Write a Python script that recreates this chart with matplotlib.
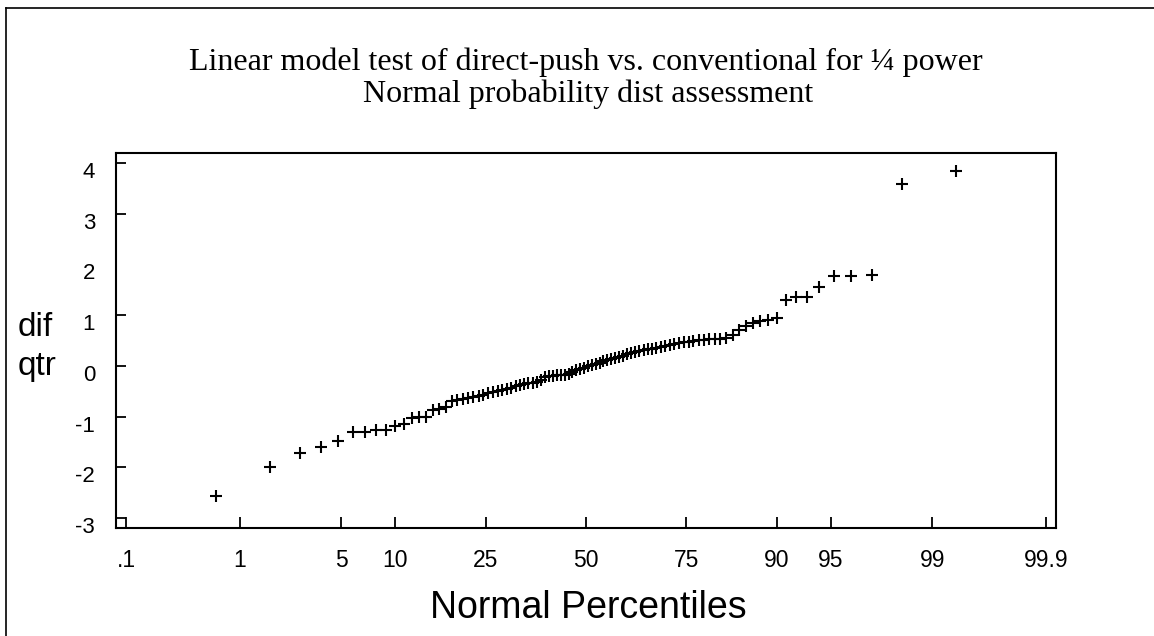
import matplotlib
matplotlib.use("Agg")
import matplotlib.pyplot as plt
from matplotlib.lines import Line2D
from matplotlib.transforms import ScaledTranslation
from statistics import NormalDist

# ---- data (sorted residuals "dif qtr") ----
dif_qtr = [
    -2.56, -1.99, -1.72, -1.60, -1.48, -1.30, -1.30, -1.26, -1.26, -1.19,
    -1.15, -1.03, -1.00, -1.00, -0.88, -0.86, -0.82, -0.70, -0.68, -0.66,
    -0.64, -0.62, -0.60, -0.57, -0.54, -0.52, -0.50, -0.48, -0.46, -0.44,
    -0.40, -0.37, -0.35, -0.34, -0.33, -0.31, -0.28, -0.21, -0.20, -0.20,
    -0.19, -0.19, -0.18, -0.16, -0.12, -0.09, -0.07, -0.04, -0.01, 0.02,
    0.04, 0.06, 0.09, 0.11, 0.13, 0.15, 0.17, 0.20, 0.23, 0.25,
    0.27, 0.30, 0.32, 0.33, 0.34, 0.36, 0.38, 0.40, 0.42, 0.44,
    0.45, 0.47, 0.48, 0.50, 0.51, 0.51, 0.52, 0.52, 0.53, 0.55,
    0.60, 0.70, 0.78, 0.84, 0.88, 0.91, 0.95, 1.29, 1.35, 1.36,
    1.55, 1.78, 1.78, 1.80, 3.58, 3.85,
]
pct_ticks = [0.1, 1, 5, 10, 25, 50, 75, 90, 95, 99, 99.9]
pct_labels = [".1", "1", "5", "10", "25", "50", "75", "90", "95", "99", "99.9"]
y_ticks = [4, 3, 2, 1, 0, -1, -2, -3]
y_labels = ["4", "3", "2", "1", "0", "-1", "-2", "-3"]

title1 = "Linear model test of direct-push vs. conventional for \u00bc power"
title2 = "Normal probability dist assessment"

# ---- normal-probability positions (Blom plotting positions) ----
nd = NormalDist()
n = len(dif_qtr)
zpos = [nd.inv_cdf((i + 1 - 0.375) / (n + 0.25)) for i in range(n)]
xt = [nd.inv_cdf(p / 100.0) for p in pct_ticks]

W, H, DPI = 1154, 636, 100
fig = plt.figure(figsize=(W / DPI, H / DPI), dpi=DPI)
fig.patch.set_facecolor("white")

ax = fig.add_axes([116 / W, 1 - 528 / H, 940 / W, 375 / H])
ax.plot(zpos, dif_qtr, linestyle="none", marker="+", markersize=9,
        markeredgewidth=1.5, color="black")

ax.set_xlim(-3.158, 3.158)
ax.set_ylim(-3.197, 4.197)

for s in ax.spines.values():
    s.set_linewidth(1.5)
    s.set_color("black")

ax.set_xticks(xt)
ax.set_xticklabels(pct_labels, fontfamily="Liberation Sans", fontsize=16.5)
ax.set_yticks(y_ticks)
ax.set_yticklabels(y_labels, fontfamily="Liberation Sans", fontsize=16)
ax.tick_params(axis="x", direction="in", length=8, width=1.3, pad=15,
               top=False, colors="black")
ax.tick_params(axis="y", direction="in", length=7, width=1.3, pad=15,
               right=False, colors="black")

# y tick labels hang below their tick (top-aligned) as in the reference
off = ScaledTranslation(0, -15.0 / DPI, fig.dpi_scale_trans)
for lab in ax.get_yticklabels():
    lab.set_verticalalignment("baseline")
    lab.set_transform(lab.get_transform() + off)

# the reference has no tick mark at 2
for val, tk in zip(y_ticks, ax.yaxis.get_major_ticks()):
    if val == 2:
        tk.tick1line.set_visible(False)

# titles
fig.text(586 / W, 1 - 70 / H, title1, ha="center", va="baseline",
         fontfamily="Liberation Serif", fontsize=23)
fig.text(588 / W, 1 - 102 / H, title2, ha="center", va="baseline",
         fontfamily="Liberation Serif", fontsize=23)

# axis labels
fig.text(18 / W, 1 - 335.5 / H, "dif", ha="left", va="baseline",
         fontfamily="Liberation Sans", fontsize=24)
fig.text(18 / W, 1 - 375 / H, "qtr", ha="left", va="baseline",
         fontfamily="Liberation Sans", fontsize=24)
fig.text(588 / W, 1 - 618 / H, "Normal Percentiles", ha="center",
         va="baseline", fontfamily="Liberation Sans", fontsize=27)

# outer frame (left and top edges visible)
fig.add_artist(Line2D([5.5 / W, 5.5 / W], [0, 1 - 7.5 / H],
                      transform=fig.transFigure, color="black", lw=1.2))
fig.add_artist(Line2D([5.5 / W, 1], [1 - 7.5 / H, 1 - 7.5 / H],
                      transform=fig.transFigure, color="black", lw=1.2))

fig.savefig("out.png", dpi=DPI, facecolor="white")
